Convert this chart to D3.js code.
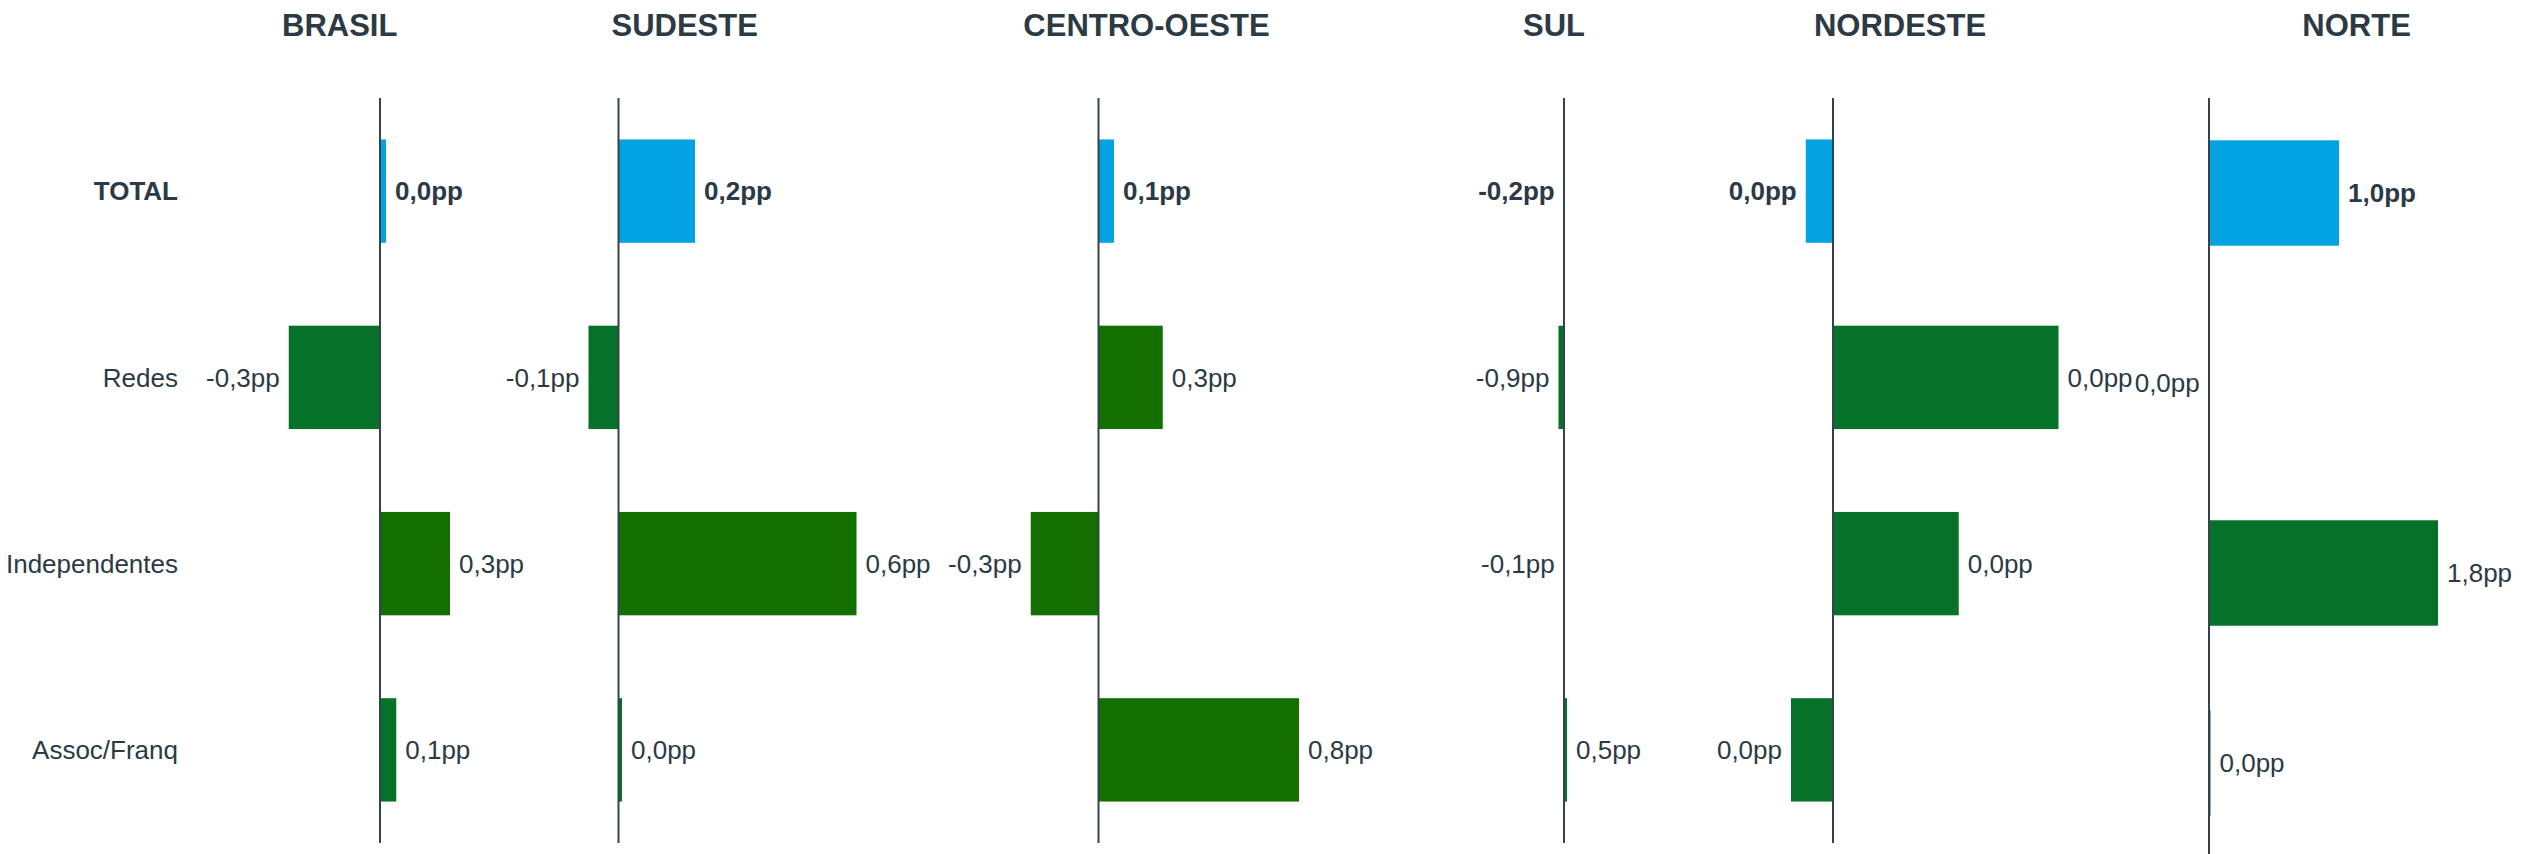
<!DOCTYPE html>
<html>
<head>
<meta charset="utf-8">
<script src="https://cdn.jsdelivr.net/npm/d3@7"></script>
<style>
  html, body { margin: 0; padding: 0; background: #ffffff; }
  svg { display: block; }
  text { font-family: "Liberation Sans", Arial, sans-serif; fill: #2b3a44; }
</style>
</head>
<body>
<svg id="chart" width="2522" height="854"></svg>
<script>
// ---------------- DATA ----------------
const regions = ["BRASIL", "SUDESTE", "CENTRO-OESTE", "SUL", "NORDESTE", "NORTE"];
const categories = ["TOTAL", "Redes", "Independentes", "Assoc/Franq"];

// bar lengths (shared unit)
const barsBrasil      = [0.024, -0.365, 0.280, 0.065];
const barsSudeste     = [0.306, -0.120, 0.952, 0.014];
const barsCentroOeste = [0.062, 0.257, -0.271, 0.802];
const barsSul         = [-0.001, -0.022, -0.001, 0.012];
const barsNordeste    = [-0.109, 0.902, 0.503, -0.168];
const barsNorte       = [0.520, -0.001, 0.916, 0.006];

// value labels as printed on the chart
const labelsBrasil      = ["0,0pp", "-0,3pp", "0,3pp", "0,1pp"];
const labelsSudeste     = ["0,2pp", "-0,1pp", "0,6pp", "0,0pp"];
const labelsCentroOeste = ["0,1pp", "0,3pp", "-0,3pp", "0,8pp"];
const labelsSul         = ["-0,2pp", "-0,9pp", "-0,1pp", "0,5pp"];
const labelsNordeste    = ["0,0pp", "0,0pp", "0,0pp", "0,0pp"];
const labelsNorte       = ["1,0pp", "0,0pp", "1,8pp", "0,0pp"];

// series group of each bar (total / group A / group B)
const groupBrasil      = ["total", "a", "b", "a"];
const groupSudeste     = ["total", "a", "b", "a"];
const groupCentroOeste = ["total", "b", "b", "b"];
const groupSul         = ["total", "a", "a", "a"];
const groupNordeste    = ["total", "a", "a", "a"];
const groupNorte       = ["total", "a", "a", "a"];

const barSets   = [barsBrasil, barsSudeste, barsCentroOeste, barsSul, barsNordeste, barsNorte];
const labelSets = [labelsBrasil, labelsSudeste, labelsCentroOeste, labelsSul, labelsNordeste, labelsNorte];
const groupSets = [groupBrasil, groupSudeste, groupCentroOeste, groupSul, groupNordeste, groupNorte];

// ---------------- LAYOUT / STYLE ----------------
const colors = { total: "#02a3e0", a: "#067129", b: "#137000" };
const textColor = "#2b3a44";
const axisColor = "#35434e";
const pxPerUnit = 250;
const axisX  = [380, 618.5, 1098.5, 1564, 1833, 2209];
const titleX = [339.7, 684.7, 1146.5, 1554, 1900, 2356.6];
const yRangeDefault = [98, 843];
const yRangeNorte   = [98, 858];

const svg = d3.select("#chart");

function bandScale(range) {
  return d3.scaleBand().domain(categories).range(range).paddingInner(0.445).paddingOuter(0.2225);
}
const yMain = bandScale(yRangeDefault);

// category labels
svg.append("g").selectAll("text")
  .data(categories)
  .join("text")
  .attr("x", 178)
  .attr("y", d => yMain(d) + yMain.bandwidth() / 2)
  .attr("dy", "0.36em")
  .attr("text-anchor", "end")
  .style("font-size", "26px")
  .style("font-weight", d => d === "TOTAL" ? "bold" : "normal")
  .text(d => d);

regions.forEach((region, i) => {
  const y = bandScale(region === "NORTE" ? yRangeNorte : yRangeDefault);
  const x = d3.scaleLinear().domain([0, 1]).range([axisX[i], axisX[i] + pxPerUnit]);
  const rows = categories.map((c, j) => ({
    cat: c, v: barSets[i][j], label: labelSets[i][j], group: groupSets[i][j]
  }));
  const g = svg.append("g");

  g.append("text")
    .attr("x", titleX[i])
    .attr("y", 36)
    .attr("text-anchor", "middle")
    .style("font-size", "31px")
    .style("font-weight", "bold")
    .text(region);

  g.selectAll("rect")
    .data(rows)
    .join("rect")
    .attr("x", d => x(Math.min(0, d.v)))
    .attr("width", d => Math.abs(x(d.v) - x(0)))
    .attr("y", d => y(d.cat))
    .attr("height", y.bandwidth())
    .attr("fill", d => colors[d.group]);

  g.append("line")
    .attr("x1", x(0)).attr("x2", x(0))
    .attr("y1", y.range()[0]).attr("y2", y.range()[1])
    .attr("stroke", axisColor)
    .attr("stroke-width", 2);

  g.selectAll("text.val")
    .data(rows)
    .join("text")
    .attr("class", "val")
    .attr("x", d => d.v >= 0 ? x(d.v) + 9 : x(d.v) - 9)
    .attr("y", d => y(d.cat) + y.bandwidth() / 2)
    .attr("dy", "0.36em")
    .attr("text-anchor", d => d.v >= 0 ? "start" : "end")
    .style("font-size", "26px")
    .style("font-weight", d => d.cat === "TOTAL" ? "bold" : "normal")
    .text(d => d.label);
});
</script>
</body>
</html>
